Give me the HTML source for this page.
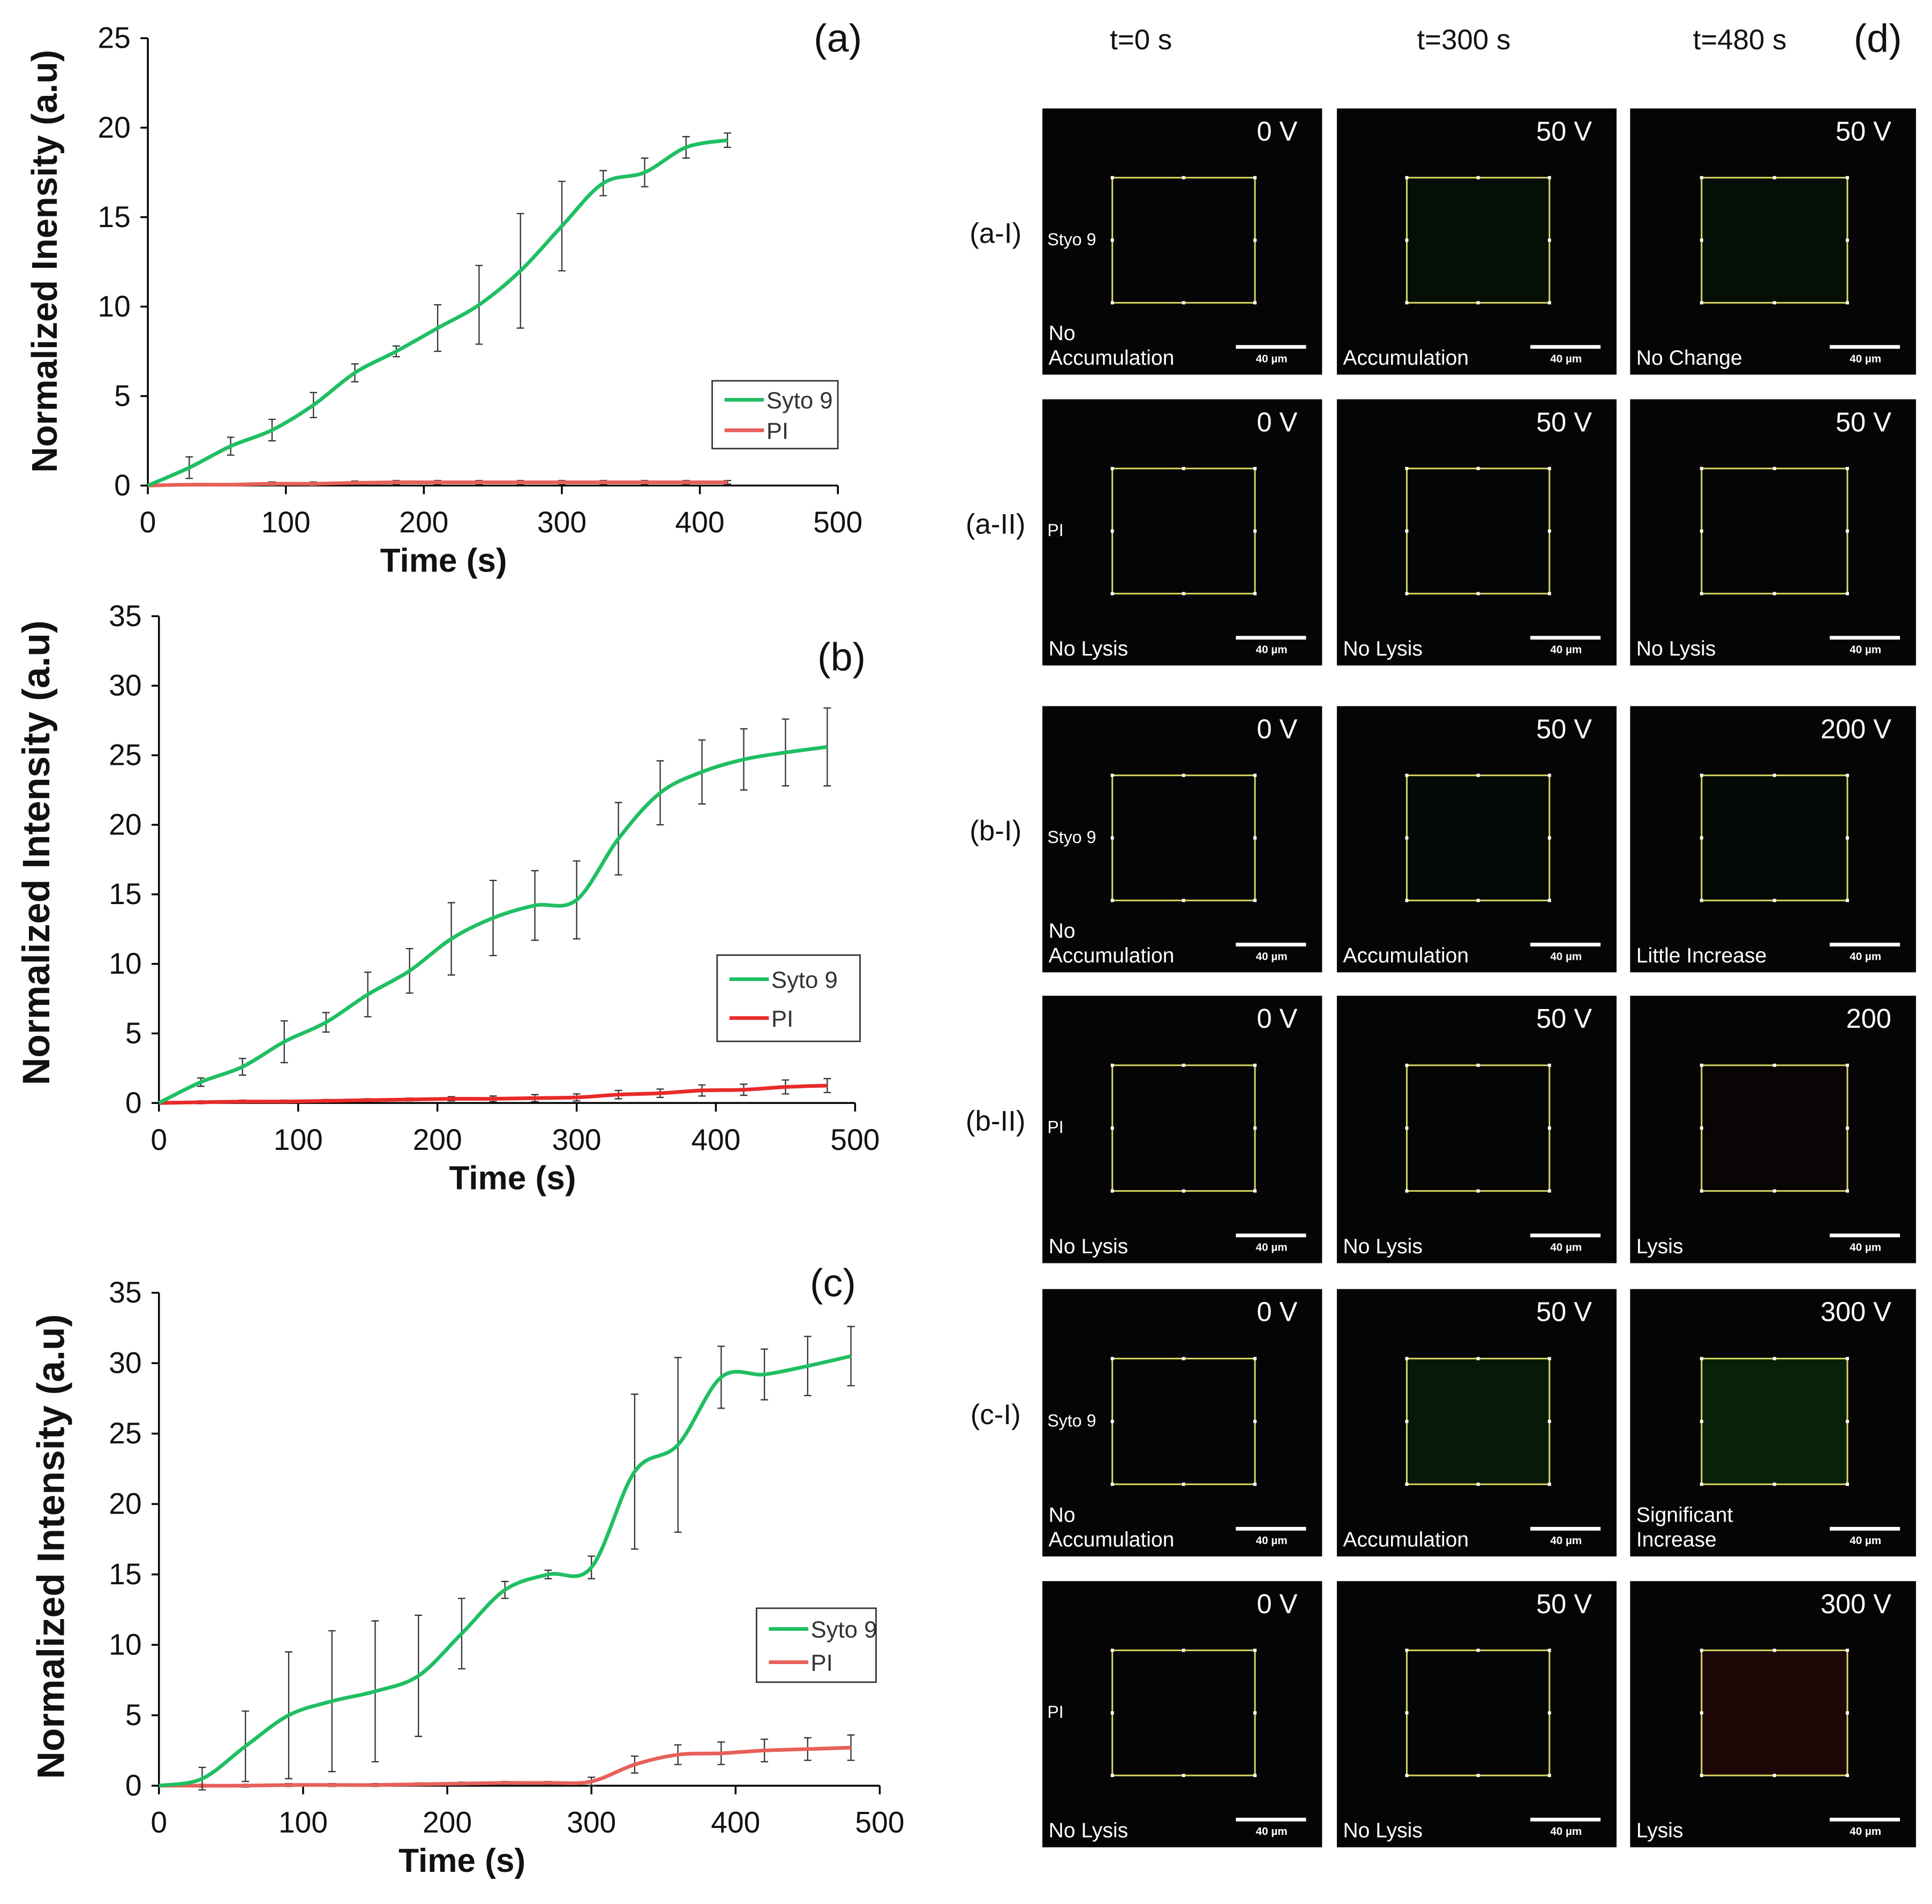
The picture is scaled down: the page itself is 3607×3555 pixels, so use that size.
<!DOCTYPE html>
<html><head><meta charset="utf-8"><style>
html,body{margin:0;padding:0;background:#fff;}
svg{display:block;font-family:"Liberation Sans",Arial,sans-serif;}
</style></head><body>
<svg id="fig" width="3607" height="3555" viewBox="0 0 1568 1545" preserveAspectRatio="none">
<rect width="1568" height="1545" fill="#fff"/>
<g id="charts"></g>
<g id="tiles"></g>
</svg>
<script>
// ---- chart data ----
const timesA = [0,30,60,90,120,150,180,210,240,270,300,330,360,390,420];
const sytoA = [0,1,2.2,3.1,4.5,6.3,7.5,8.8,10.1,12,14.5,16.9,17.5,18.9,19.3];
const sytoErrA = [0,0.6,0.5,0.6,0.7,0.5,0.3,1.3,2.2,3.2,2.5,0.7,0.8,0.6,0.4];
const piA = [0,0.05,0.05,0.1,0.1,0.15,0.18,0.18,0.18,0.18,0.18,0.18,0.18,0.18,0.18];
const piErrA = [0,0.05,0.05,0.1,0.1,0.1,0.1,0.1,0.1,0.1,0.1,0.1,0.1,0.1,0.1];

const timesB = [0,30,60,90,120,150,180,210,240,270,300,330,360,390,420,450,480];
const sytoB = [0,1.5,2.6,4.4,5.8,7.8,9.5,11.8,13.3,14.2,14.6,19,22.3,23.8,24.7,25.2,25.6];
const sytoErrB = [0,0.3,0.6,1.5,0.7,1.6,1.6,2.6,2.7,2.5,2.8,2.6,2.3,2.3,2.2,2.4,2.8];
const piB = [0,0.05,0.1,0.1,0.15,0.2,0.25,0.3,0.3,0.35,0.4,0.6,0.7,0.9,0.95,1.15,1.25];
const piErrB = [0,0.1,0.1,0.1,0.1,0.1,0.1,0.15,0.2,0.25,0.25,0.3,0.3,0.4,0.4,0.5,0.5];

const timesC = [0,30,60,90,120,150,180,210,240,270,300,330,360,390,420,450,480];
const sytoC = [0,0.5,2.8,5,6,6.7,7.8,10.8,13.9,15,15.5,22.3,24.2,29,29.2,29.8,30.5];
const sytoErrC = [0,0.8,2.5,4.5,5,5,4.3,2.5,0.6,0.3,0.8,5.5,6.2,2.2,1.8,2.1,2.1];
const piC = [0,0,0,0.05,0.05,0.05,0.1,0.15,0.2,0.2,0.3,1.5,2.2,2.3,2.5,2.6,2.7];
const piErrC = [0,0.1,0.1,0.1,0.1,0.1,0.1,0.1,0.1,0.1,0.3,0.6,0.7,0.8,0.8,0.8,0.9];

const xTicks = [0,100,200,300,400,500];
const yTicksA = [0,5,10,15,20,25];
const yTicksB = [0,5,10,15,20,25,30,35];

const NS="http://www.w3.org/2000/svg";
function mk(tag,attrs,parent){const e=document.createElementNS(NS,tag);for(const k in attrs)e.setAttribute(k,attrs[k]);parent.appendChild(e);return e;}
function smooth(pts){let d=`M${pts[0][0]},${pts[0][1]}`;for(let i=0;i<pts.length-1;i++){const p0=pts[Math.max(i-1,0)],p1=pts[i],p2=pts[i+1],p3=pts[Math.min(i+2,pts.length-1)];const c1=[p1[0]+(p2[0]-p0[0])/6,p1[1]+(p2[1]-p0[1])/6],c2=[p2[0]-(p3[0]-p1[0])/6,p2[1]-(p3[1]-p1[1])/6];d+=` C${c1[0]},${c1[1]} ${c2[0]},${c2[1]} ${p2[0]},${p2[1]}`;}return d;}

function chart(cfg){
  const root=document.getElementById('charts');
  const g=mk('g',{},root);
  
  
  const X=v=>cfg.x0+(v/500)*(cfg.x1-cfg.x0);
  const Y=v=>cfg.y0-(v/cfg.ymax)*(cfg.y0-cfg.y1);
  const ax=mk('path',{d:`M${cfg.x0},${cfg.y1} V${cfg.y0} H${cfg.x1}`,stroke:'#000','stroke-width':1.5,fill:'none'},g);
  
  
  cfg.yt.forEach(v=>{
    mk('line',{x1:cfg.x0-6,x2:cfg.x0,y1:Y(v),y2:Y(v),stroke:'#000','stroke-width':1.5},g);
    const t=mk('text',{x:cfg.x0-14,y:Y(v)+8,'text-anchor':'end','font-size':24,fill:'#111'},g);t.textContent=v;
    
    
  });
  xTicks.forEach(v=>{
    mk('line',{x1:X(v),x2:X(v),y1:cfg.y0,y2:cfg.y0+7,stroke:'#000','stroke-width':1.5},g);
    const t=mk('text',{x:X(v),y:cfg.y0+38,'text-anchor':'middle','font-size':24,fill:'#111'},g);t.textContent=v;
    
    
  });
  const xt=mk('text',{x:cfg.xtx,y:cfg.y0+70,'text-anchor':'middle','font-size':27,'font-weight':'bold',fill:'#111'},g);xt.textContent='Time (s)';
  
  
  const yt=mk('text',{x:0,y:0,'text-anchor':'middle','font-size':cfg.yts,'font-weight':'bold',fill:'#111',transform:`translate(${cfg.ytx},${cfg.ytc}) rotate(-90)`},g);yt.textContent=cfg.ytitle;
  
  
  const pl=mk('text',{x:cfg.plx,y:cfg.ply,'text-anchor':'middle','font-size':32,fill:'#111'},g);pl.textContent=cfg.panel;
  
  
  [[cfg.pi,cfg.piE,cfg.piCol,'pi'],[cfg.sy,cfg.syE,'#1fbf62','syto9']].forEach(([vals,errs,col,nm])=>{
    const sg=mk('g',{},g);
    
    
    cfg.t.forEach((tt,i)=>{if(errs[i]<=0)return;const x=X(tt);
      const e=mk('path',{d:`M${x},${Y(vals[i]-errs[i])} V${Y(vals[i]+errs[i])} M${x-3},${Y(vals[i]-errs[i])} h6 M${x-3},${Y(vals[i]+errs[i])} h6`,stroke:'#333','stroke-width':1,fill:'none'},sg);
      
      
    });
    const ln=mk('path',{d:smooth(cfg.t.map((tt,i)=>[X(tt),Y(vals[i])])),stroke:col,'stroke-width':3,fill:'none'},sg);
    
    
  });
  const L=cfg.leg;
  const lg=mk('g',{},g);
  
  
  mk('rect',{x:L[0],y:L[1],width:L[2],height:L[3],fill:'#fff',stroke:'#333','stroke-width':1.2},lg);
  [['Syto 9','#1fbf62'],['PI',cfg.piCol]].forEach(([lab,col],k)=>{
    const yy=L[1]+L[3]*(k?0.73:0.28);
    mk('line',{x1:L[0]+10,x2:L[0]+42,y1:yy,y2:yy,stroke:col,'stroke-width':3},lg);
    const t=mk('text',{x:L[0]+44,y:yy+7,'font-size':19,fill:'#333'},lg);t.textContent=lab;
    
    
  });
}
chart({name:'chart-a',panel:'(a)',x0:120,x1:680,y0:394,y1:31,ymax:25,yt:yTicksA,t:timesA,sy:sytoA,syE:sytoErrA,pi:piA,piE:piErrA,piCol:'#e8605a',ytitle:'Normalized Inensity (a.u)',ytx:46,ytc:212,yts:29,xtx:360,plx:680,ply:42,leg:[578,309,102,55]});
chart({name:'chart-b',panel:'(b)',x0:129,x1:694,y0:895,y1:500,ymax:35,yt:yTicksB,t:timesB,sy:sytoB,syE:sytoErrB,pi:piB,piE:piErrB,piCol:'#e82a2a',ytitle:'Normalized Intensity (a.u)',ytx:40,ytc:692,yts:31,xtx:416,plx:683,ply:544,leg:[582,775,116,70]});
chart({name:'chart-c',panel:'(c)',x0:129,x1:714,y0:1449,y1:1049,ymax:35,yt:yTicksB,t:timesC,sy:sytoC,syE:sytoErrC,pi:piC,piE:piErrC,piCol:'#e8605a',ytitle:'Normalized Intensity (a.u)',ytx:52,ytc:1255,yts:31,xtx:375,plx:676,ply:1052,leg:[614,1305,97,60]});

// ---- microscopy tiles ----
const colX=[[846,1073],[1085,1312],[1323,1555]];
const rowY=[[88,304],[324,540],[573,789],[808,1025],[1046,1263],[1283,1499]];
const volts=[['0 V','50 V','50 V'],['0 V','50 V','50 V'],['0 V','50 V','200 V'],['0 V','50 V','200'],['0 V','50 V','300 V'],['0 V','50 V','300 V']];
const notes=[['No\nAccumulation','Accumulation','No Change'],['No Lysis','No Lysis','No Lysis'],['No\nAccumulation','Accumulation','Little Increase'],['No Lysis','No Lysis','Lysis'],['No\nAccumulation','Accumulation','Significant\nIncrease'],['No Lysis','No Lysis','Lysis']];
const stains=['Styo 9','PI','Styo 9','PI','Syto 9','PI'];
const rowLabels=['(a-I)','(a-II)','(b-I)','(b-II)','(c-I)',''];
const glow=[[0,0.08,0.08],[0,0,0],[0,0.04,0.04],[0,0,0.04],[0,0.15,0.22],[0,0,0.18]];
const T=document.getElementById('tiles');
[['t=0 s',926],['t=300 s',1188],['t=480 s',1412]].forEach(([s,x])=>{const t=mk('text',{x:x,y:40,'text-anchor':'middle','font-size':23,fill:'#111'},T);t.textContent=s;

});
const d=mk('text',{x:1524,y:42,'text-anchor':'middle','font-size':32,fill:'#111'},T);d.textContent='(d)';


rowY.forEach(([y0,y1],r)=>{
  if(rowLabels[r]){const rl=mk('text',{x:808,y:(y0+y1)/2+1,'text-anchor':'middle','font-size':23,fill:'#111'},T);rl.textContent=rowLabels[r];
  
  }
  colX.forEach(([x0,x1],c)=>{
    const g=mk('g',{},T);
    
    
    mk('rect',{x:x0,y:y0,width:x1-x0,height:y1-y0,fill:'#050505'},g);
    const w=x1-x0,h=y1-y0,sx=x0+w*0.25,sy=y0+h*0.26,sw=w*0.51,sh=h*0.47;
    const gl=glow[r][c];
    if(gl>0){mk('rect',{x:sx,y:sy,width:sw,height:sh,fill:(r%2? '#8a1010':'#1a8a1a'),opacity:gl},g);}
    mk('rect',{x:sx,y:sy,width:sw,height:sh,fill:'none',stroke:'#d8d860','stroke-width':1.3},g);
    [[0,0],[0.5,0],[1,0],[0,0.5],[1,0.5],[0,1],[0.5,1],[1,1]].forEach(([a,b])=>mk('rect',{x:sx+a*sw-1.3,y:sy+b*sh-1.3,width:2.6,height:2.6,fill:'#fff'},g));
    const v=mk('text',{x:x1-20,y:y0+26,'text-anchor':'end','font-size':22,fill:'#fff'},g);v.textContent=volts[r][c];
    
    
    const lines=notes[r][c].split('\n');
    lines.forEach((s,k)=>{const n=mk('text',{x:x0+5,y:y1-8-(lines.length-1-k)*20,'font-size':17,fill:'#fff'},g);n.textContent=s;
    
    });
    mk('rect',{x:x1-70,y:y1-24,width:57,height:3,fill:'#fff'},g);
    const sb=mk('text',{x:x1-41,y:y1-10,'text-anchor':'middle','font-size':9,'font-weight':'bold',fill:'#fff'},g);sb.textContent='40 µm';
    
    
    if(c===0){const st=mk('text',{x:x0+4,y:(y0+y1)/2+3,'font-size':14,fill:'#fff'},g);st.textContent=stains[r];
    
    }
  });
});
</script>
</body></html>
